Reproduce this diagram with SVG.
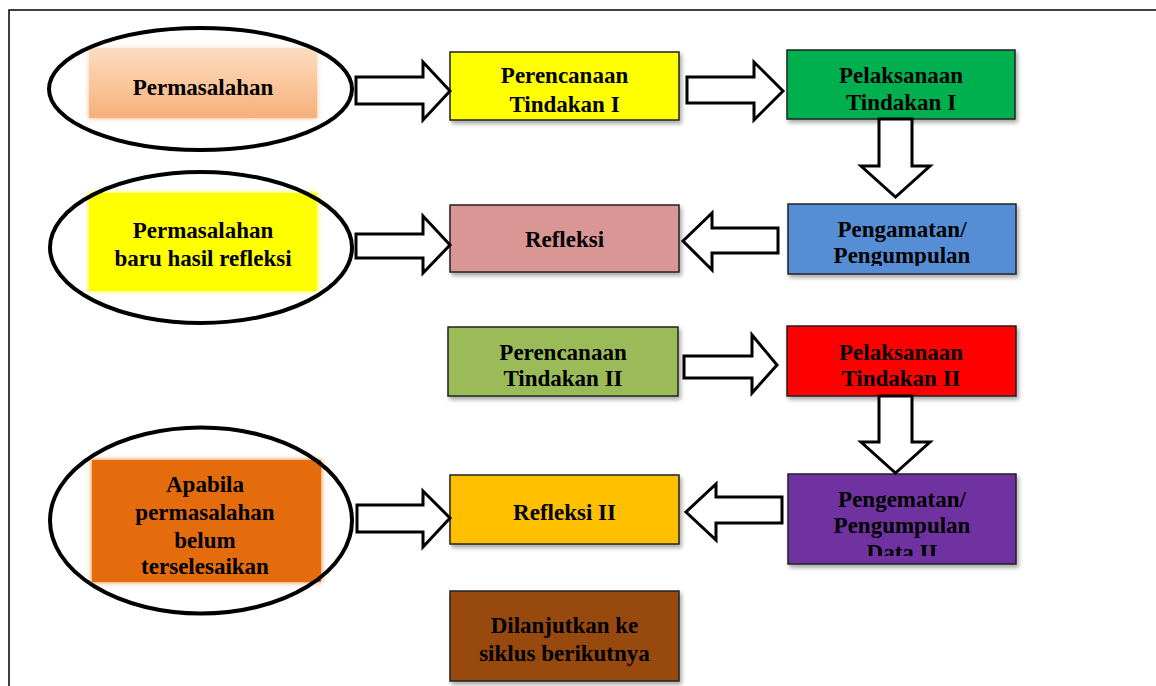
<svg xmlns="http://www.w3.org/2000/svg" width="1156" height="686" viewBox="0 0 1156 686">
<style>
.t{font-family:"Liberation Serif","Times New Roman",serif;font-weight:bold;font-size:23px;fill:#000;text-anchor:middle}
.box{stroke:#222;stroke-width:1.5;filter:url(#sh)}
.soft{filter:url(#glow)}
.ell{fill:none;stroke:#000;stroke-width:4}
.arr{fill:#fff;stroke:#000;stroke-width:3;stroke-linejoin:miter}
.frame{stroke:#000;stroke-width:1.5;fill:none}
</style>
<defs>
<filter id="sh" x="-10%" y="-20%" width="125%" height="150%">
<feDropShadow dx="2" dy="3" stdDeviation="2" flood-color="#000" flood-opacity="0.35"/>
</filter>
<filter id="glow" x="-10%" y="-15%" width="120%" height="130%">
<feGaussianBlur in="SourceGraphic" stdDeviation="2.5" result="b"/>
<feMerge><feMergeNode in="b"/><feMergeNode in="SourceGraphic"/></feMerge>
</filter>
<linearGradient id="peach" x1="0" y1="0" x2="0" y2="1">
<stop offset="0" stop-color="#FCDCC2"/>
<stop offset="0.5" stop-color="#FAC79C"/>
<stop offset="1" stop-color="#F6B07A"/>
</linearGradient>
<clipPath id="c1"><rect x="788" y="204" width="228" height="62"/></clipPath>
<clipPath id="c2"><rect x="788" y="474" width="228" height="82"/></clipPath>
</defs>
<rect width="1156" height="686" fill="#fff"/>
<path class="frame" d="M9,686 V10 H1156"/>

<g id="n-permasalahan">
<rect x="89" y="48" width="228" height="70" fill="url(#peach)" class="soft"/>
<text class="t" x="203" y="95">Permasalahan</text>
<ellipse class="ell" cx="200.5" cy="89" rx="151.5" ry="61"/>
</g>

<g id="n-perencanaan1">
<rect class="box" x="450" y="52" width="229" height="68" fill="#FFFF00"/>
<text class="t" x="564.5" y="83">Perencanaan</text>
<text class="t" x="564.5" y="112">Tindakan I</text>
</g>

<g id="n-pelaksanaan1">
<rect class="box" x="787" y="50" width="228" height="69" fill="#00B050"/>
<text class="t" x="901" y="83">Pelaksanaan</text>
<text class="t" x="901" y="110">Tindakan I</text>
</g>

<g id="n-pengamatan1">
<rect class="box" x="788" y="204" width="228" height="70" fill="#558ED5"/>
<g clip-path="url(#c1)">
<text class="t" x="902" y="237">Pengamatan/</text>
<text class="t" x="902" y="263">Pengumpulan</text>
</g>
</g>

<g id="n-refleksi1">
<rect class="box" x="450" y="205" width="229" height="67" fill="#D99694"/>
<text class="t" x="564.5" y="247">Refleksi</text>
</g>

<g id="n-permasalahan-baru">
<rect x="89" y="193" width="228" height="98" fill="#FFFF00" class="soft"/>
<text class="t" x="203" y="238">Permasalahan</text>
<text class="t" x="203" y="266">baru hasil refleksi</text>
<ellipse class="ell" cx="201" cy="247.5" rx="151" ry="75.5"/>
</g>

<g id="n-perencanaan2">
<rect class="box" x="448" y="327" width="230" height="69" fill="#9BBB59"/>
<text class="t" x="563" y="360">Perencanaan</text>
<text class="t" x="563" y="386">Tindakan II</text>
</g>

<g id="n-pelaksanaan2">
<rect class="box" x="787" y="326" width="229" height="70" fill="#FF0000"/>
<text class="t" x="901" y="360">Pelaksanaan</text>
<text class="t" x="901" y="386">Tindakan II</text>
</g>

<g id="n-pengamatan2">
<rect class="box" x="788" y="474" width="228" height="90" fill="#7030A0"/>
<g clip-path="url(#c2)">
<text class="t" x="902" y="507">Pengematan/</text>
<text class="t" x="902" y="533">Pengumpulan</text>
<text class="t" x="902" y="560">Data II</text>
</g>
</g>

<g id="n-refleksi2">
<rect class="box" x="450" y="475" width="229" height="69" fill="#FFC000"/>
<text class="t" x="564.5" y="520">Refleksi II</text>
</g>

<g id="n-apabila">
<rect x="92" y="460" width="229" height="122" fill="#E46C0A" class="soft"/>
<text class="t" x="205" y="492">Apabila</text>
<text class="t" x="205" y="520">permasalahan</text>
<text class="t" x="205" y="548">belum</text>
<text class="t" x="205" y="574">terselesaikan</text>
<ellipse class="ell" cx="201" cy="520.5" rx="151" ry="93"/>
</g>

<g id="n-dilanjutkan">
<rect class="box" x="450" y="591" width="229" height="90" fill="#984807"/>
<text class="t" x="564.5" y="633">Dilanjutkan ke</text>
<text class="t" x="564.5" y="661">siklus berikutnya</text>
</g>

<g id="connectors">
<path class="arr" d="M356,77 H423 V62 L450,91 L423,120 V104 H356 Z"/>
<path class="arr" d="M687,77 H754 V62 L783,91 L754,120 V103 H687 Z"/>
<path class="arr" d="M879,119 V166 H861 L895.5,197 L930,166 H912 V119 Z"/>
<path class="arr" d="M778,228 H712 V213 L683,241 L712,270 V253 H778 Z"/>
<path class="arr" d="M356,234 H423 V216 L450,245 L423,273 V258 H356 Z"/>
<path class="arr" d="M684,356 H752 V335 L777,365 L752,393 V378 H684 Z"/>
<path class="arr" d="M879,396 V442 H861 L895.5,473 L930,442 H912 V396 Z"/>
<path class="arr" d="M782,497 H716 V484 L686,512 L716,540 V523 H782 Z"/>
<path class="arr" d="M357,505 H423 V491 L450,518 L423,547 V532 H357 Z"/>
</g>
</svg>
